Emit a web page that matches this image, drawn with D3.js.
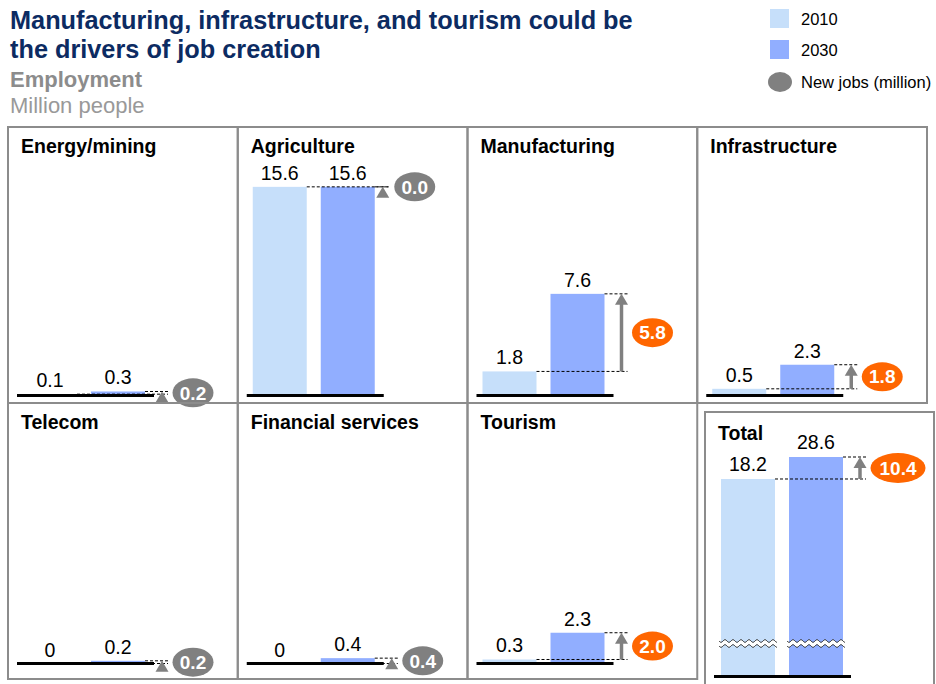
<!DOCTYPE html>
<html>
<head>
<meta charset="utf-8">
<script src="https://cdn.jsdelivr.net/npm/d3@7"></script>
<style>
  body { margin: 0; background: #fff; }
  svg { display: block; font-family: "Liberation Sans", Arial, Helvetica, sans-serif; }
</style>
</head>
<body>
<script>
// Employment by sector, million people
const sectors   = ["Energy/mining", "Agriculture", "Manufacturing", "Infrastructure",
                   "Telecom", "Financial services", "Tourism"];
const jobs2010  = [0.1, 15.6, 1.8, 0.5, 0, 0, 0.3];
const jobs2030  = [0.3, 15.6, 7.6, 2.3, 0.2, 0.4, 2.3];
const newJobs   = [0.2, 0.0, 5.8, 1.8, 0.2, 0.4, 2.0];
const drivers   = ["Manufacturing", "Infrastructure", "Tourism"];
const years     = ["2010", "2030"];
const totalLabel = "Total";
const total2010 = 18.2;
const total2030 = 28.6;
const totalNew  = 10.4;
// bottom of the broken axis used by the Total panel
const totalAxisFloor = -75.2;

const W = 936, H = 684;
const C = {
  c2010: "#c6dffa", c2030: "#91aeff",
  orange: "#ff6600", grey: "#808080",
  title: "#0c2b62", sub: "#8c8c8c", frame: "#8c8c8c"
};

const svg = d3.select("body").append("svg").attr("width", W).attr("height", H);

// ---- heading ----
const head = svg.append("g");
head.append("text").attr("x", 10).attr("y", 29)
  .attr("font-size", 25.3).attr("font-weight", "bold").attr("fill", C.title)
  .text("Manufacturing, infrastructure, and tourism could be");
head.append("text").attr("x", 10).attr("y", 58)
  .attr("font-size", 25.3).attr("font-weight", "bold").attr("fill", C.title)
  .text("the drivers of job creation");
head.append("text").attr("x", 10).attr("y", 87)
  .attr("font-size", 22).attr("font-weight", "bold").attr("fill", C.sub)
  .text("Employment");
head.append("text").attr("x", 10).attr("y", 113)
  .attr("font-size", 22).attr("fill", "#999")
  .text("Million people");

// ---- legend ----
const legend = svg.append("g");
years.forEach((y, i) => {
  legend.append("rect").attr("x", 770).attr("y", 9 + i * 31).attr("width", 19).attr("height", 19)
    .attr("fill", i === 0 ? C.c2010 : C.c2030);
  legend.append("text").attr("x", 801).attr("y", 25 + i * 31)
    .attr("font-size", 16.5).attr("fill", "#000").text(y);
});
legend.append("ellipse").attr("cx", 780).attr("cy", 82).attr("rx", 12).attr("ry", 10).attr("fill", C.grey);
legend.append("text").attr("x", 801).attr("y", 88).attr("font-size", 16.5).attr("fill", "#000")
  .text("New jobs (million)");

// ---- grid of sector panels ----
const col = d3.scaleBand().domain(d3.range(4)).range([8, 927]);
const rowTop = [127, 403];
const rowBottom = [403, 679];
const rowBase = [395.5, 663.5];

const xBar = d3.scaleBand().domain(years).range([15, 137]).paddingInner(14 / 68);
const barH = 208.65;
const maxSector = d3.max(jobs2010.concat(jobs2030));

const fmtBar = v => v === 0 ? "0" : d3.format(".1f")(v);
const fmtNew = d3.format(".1f");

// growth arrow, guide lines and the new-jobs bubble
function delta(g, o) {
  const { x1, x2, yLow, yHigh, ax, label, fill, rx, ry, bdx } = o;
  g.append("line").attr("x1", x1).attr("x2", ax + 6).attr("y1", yLow).attr("y2", yLow)
    .attr("stroke", "#000").attr("stroke-width", 1).attr("stroke-dasharray", "3,2");
  g.append("line").attr("x1", x2).attr("x2", ax + 6).attr("y1", yHigh).attr("y2", yHigh)
    .attr("stroke", "#000").attr("stroke-width", 1).attr("stroke-dasharray", "3,2");
  const headLen = 11;
  if (yLow > yHigh + headLen) {
    g.append("line").attr("x1", ax).attr("x2", ax).attr("y1", yLow).attr("y2", yHigh + headLen - 1)
      .attr("stroke", C.grey).attr("stroke-width", 3.5);
  }
  g.append("path")
    .attr("d", `M${ax},${yHigh} L${ax + 6.5},${yHigh + headLen} L${ax - 6.5},${yHigh + headLen} Z`)
    .attr("fill", C.grey);
  const cy = (yLow + yHigh) / 2;
  g.append("ellipse").attr("cx", ax + bdx).attr("cy", cy).attr("rx", rx).attr("ry", ry).attr("fill", fill);
  g.append("text").attr("x", ax + bdx).attr("y", cy + 6.7).attr("text-anchor", "middle")
    .attr("font-size", 19).attr("font-weight", "bold").attr("fill", "#fff").text(label);
}

const frame = svg.append("g");

sectors.forEach((name, i) => {
  const c = i % 4, r = Math.floor(i / 4);
  const left = col(c), top = rowTop[r], base = rowBase[r];
  const y = d3.scaleLinear().domain([0, maxSector]).range([base, base - barH]);
  const g = svg.append("g");

  frame.append("rect").attr("x", left).attr("y", top)
    .attr("width", col.bandwidth()).attr("height", rowBottom[r] - top)
    .attr("fill", "none").attr("stroke", C.frame).attr("stroke-width", 2);

  g.append("text").attr("x", left + 13).attr("y", top + 26)
    .attr("font-size", 19.5).attr("font-weight", "bold").attr("fill", "#000").text(name);

  const vals = [jobs2010[i], jobs2030[i]];
  years.forEach((yr, k) => {
    const v = vals[k];
    g.append("rect").attr("x", left + xBar(yr)).attr("width", xBar.bandwidth())
      .attr("y", y(v)).attr("height", base - y(v))
      .attr("fill", k === 0 ? C.c2010 : C.c2030);
    g.append("text").attr("x", left + xBar(yr) + xBar.bandwidth() / 2).attr("y", y(v) - 7)
      .attr("text-anchor", "middle").attr("font-size", 19.5).attr("fill", "#000").text(fmtBar(v));
  });

  const ax = left + (name === "Agriculture" ? 145 : 154);
  const bdx = name === "Agriculture" ? 32 : 31;
  delta(g, {
    x1: left + xBar("2010") + xBar.bandwidth(),
    x2: left + xBar("2030") + xBar.bandwidth(),
    yLow: y(jobs2010[i]), yHigh: y(jobs2030[i]), ax,
    label: fmtNew(newJobs[i]),
    fill: drivers.includes(name) ? C.orange : C.grey,
    rx: 20.5, ry: 14.5, bdx
  });

  g.append("line").attr("x1", left + 9).attr("x2", left + 146).attr("y1", base).attr("y2", base)
    .attr("stroke", "#000").attr("stroke-width", 3);
});

// ---- Total panel with broken axis ----
(function () {
  const left = 705, top = 412, base = 676.5;
  const g = svg.append("g");
  const y = d3.scaleLinear().domain([totalAxisFloor, total2030]).range([base, 457]);

  g.append("rect").attr("x", left).attr("y", top).attr("width", 229).attr("height", 280)
    .attr("fill", "none").attr("stroke", C.frame).attr("stroke-width", 2);
  g.append("text").attr("x", left + 13).attr("y", top + 28)
    .attr("font-size", 19.5).attr("font-weight", "bold").attr("fill", "#000").text(totalLabel);

  const xb = d3.scaleBand().domain(years).range([left + 16, left + 138]).paddingInner(14 / 68);
  const vals = [total2010, total2030];
  years.forEach((yr, k) => {
    const v = vals[k];
    g.append("rect").attr("x", xb(yr)).attr("width", xb.bandwidth())
      .attr("y", y(v)).attr("height", base - y(v))
      .attr("fill", k === 0 ? C.c2010 : C.c2030);
    g.append("text").attr("x", xb(yr) + xb.bandwidth() / 2).attr("y", y(v) - 8)
      .attr("text-anchor", "middle").attr("font-size", 19.5).attr("fill", "#000").text(d3.format(".1f")(v));

    // axis-break marks across the bar
    const x0 = xb(yr) - 2, x1 = xb(yr) + xb.bandwidth() + 2;
    const wave = (yc) => d3.range(x0, x1 + 0.01, 0.5).map(x => [x, yc + 1.3 * Math.sin((x - x0) / 8 * 2 * Math.PI)]);
    const w1 = wave(base - 35.5), w2 = wave(base - 30.5);
    const line = d3.line();
    g.append("path").attr("d", line(w1.concat(w2.slice().reverse())) + "Z").attr("fill", "#fff");
    g.append("path").attr("d", line(w1)).attr("fill", "none").attr("stroke", "#222").attr("stroke-width", 1);
    g.append("path").attr("d", line(w2)).attr("fill", "none").attr("stroke", "#222").attr("stroke-width", 1);
  });

  delta(g, {
    x1: xb("2010") + xb.bandwidth(), x2: xb("2030") + xb.bandwidth(),
    yLow: y(total2010), yHigh: y(total2030), ax: left + 155,
    label: fmtNew(totalNew), fill: C.orange, rx: 27.5, ry: 15, bdx: 38
  });

  g.append("line").attr("x1", left + 9).attr("x2", left + 146).attr("y1", base).attr("y2", base)
    .attr("stroke", "#000").attr("stroke-width", 3);
})();

frame.raise();
</script>
</body>
</html>
